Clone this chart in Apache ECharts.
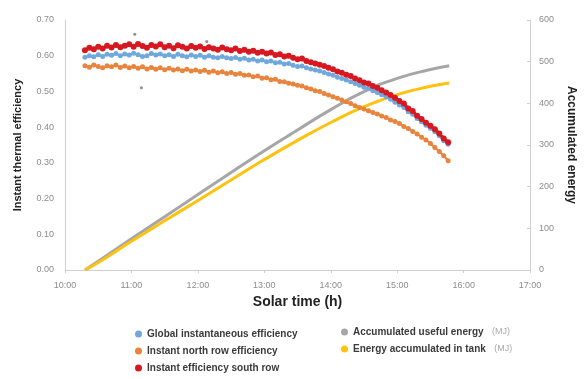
<!DOCTYPE html>
<html><head><meta charset="utf-8">
<script src="https://cdn.jsdelivr.net/npm/echarts@6/dist/echarts.min.js"></script>
<style>html,body{margin:0;padding:0;background:#fff}#c{width:585px;height:379px}</style>
</head><body><div id="c"></div>
<script>
const effTimes = ["10:18","10:22","10:26","10:30","10:34","10:38","10:42","10:46","10:50","10:54","10:58",
"11:02","11:06","11:10","11:14","11:18","11:22","11:26","11:30","11:34","11:38","11:42","11:46","11:50","11:54","11:58",
"12:02","12:06","12:10","12:14","12:18","12:22","12:26","12:30","12:34","12:38","12:42","12:46","12:50","12:54","12:58",
"13:02","13:06","13:10","13:14","13:18","13:22","13:26","13:30","13:34","13:38","13:42","13:46","13:50","13:54","13:58",
"14:02","14:06","14:10","14:14","14:18","14:22","14:26","14:30","14:34","14:38","14:42","14:46","14:50","14:54","14:58",
"15:02","15:06","15:10","15:14","15:18","15:22","15:26","15:30","15:34","15:38","15:42","15:46"];
const globalEff = [.596,.600,.597,.603,.598,.604,.601,.606,.600,.605,.602,
.607,.603,.598,.600,.606,.602,.605,.600,.603,.598,.604,.600,.597,.602,.598,
.601,.596,.600,.596,.594,.598,.594,.592,.595,.590,.593,.588,.590,.585,.588,
.583,.585,.580,.582,.577,.578,.573,.570,.571,.566,.563,.560,.557,.553,.549,
.545,.540,.536,.532,.527,.522,.517,.512,.508,.502,.497,.491,.485,.478,.470,
.462,.455,.443,.436,.424,.415,.405,.397,.387,.376,.362,.352];
const northEff = [.572,.568,.574,.570,.566,.572,.569,.574,.567,.571,.566,
.570,.565,.569,.563,.567,.562,.566,.561,.565,.560,.563,.558,.562,.557,.560,
.556,.559,.554,.557,.552,.555,.550,.553,.548,.550,.545,.546,.541,.543,.537,
.538,.533,.534,.528,.527,.523,.521,.517,.515,.510,.507,.502,.500,.494,.490,
.485,.481,.476,.471,.466,.460,.455,.451,.446,.441,.437,.431,.427,.420,.416,
.410,.402,.396,.388,.381,.372,.364,.354,.343,.332,.320,.306];
const southEff = [.615,.622,.618,.625,.620,.628,.623,.630,.624,.628,.632,
.625,.633,.627,.622,.630,.626,.632,.624,.628,.621,.629,.625,.620,.627,.622,
.626,.619,.624,.620,.617,.623,.618,.615,.620,.613,.617,.611,.614,.608,.611,
.606,.609,.602,.604,.598,.600,.594,.590,.592,.585,.582,.578,.575,.571,.566,
.562,.556,.552,.547,.543,.536,.531,.525,.522,.515,.510,.503,.497,.490,.482,
.473,.466,.452,.445,.432,.423,.412,.404,.394,.382,.368,.358];
const outlierTimes = ["11:03","11:09","12:08"];
const outlierEff = [0.66, 0.51, 0.64];
const energyTimes = ["10:18","10:30","11:00","11:30","12:00","12:30","13:00","13:30","14:00","14:30","15:00","15:30","15:47"];
const usefulEnergy = [0,21,75,128,181,234,286,336,385,428,460,481,490];
const tankEnergy = [0,18,69,118,167,216,265,311,354,392,421,441,449];
const xTicks = ["10:00","11:00","12:00","13:00","14:00","15:00","16:00","17:00"];
const leftTicks = [0,0.1,0.2,0.3,0.4,0.5,0.6,0.7];
const rightTicks = [0,100,200,300,400,500,600];

const toH = s => { const p = s.split(':'); return +p[0] + (+p[1])/60; };
const pair = (ts, vs) => ts.map((t,i)=>[toH(t), vs[i]]);

const C = {blue:'#6fa8dc', orange:'#e8843c', red:'#d81820', gray:'#a6a6a6', yellow:'#ffc20e'};
const lbl = {color:'#8c8c8c', fontSize:9, fontFamily:'Liberation Sans'};
const legText = {color:'#3a3a3a', fontSize:10, fontWeight:'bold', fontFamily:'Liberation Sans'};

const chart = echarts.init(document.getElementById('c'), null, {renderer:'canvas'});
chart.setOption({
  animation:false,
  grid:{left:65, right:50, top:20, bottom:109},
  xAxis:{type:'value', min:toH(xTicks[0]), max:toH(xTicks[xTicks.length-1]), interval:1,
    axisLine:{lineStyle:{color:'#d0d0d0'}}, axisTick:{show:true, length:3, lineStyle:{color:'#d0d0d0'}},
    splitLine:{show:false},
    axisLabel:{...lbl, margin:11, formatter:v=>{const i=Math.round(v-toH(xTicks[0])); return xTicks[i]||'';}},
    name:'Solar time (h)', nameLocation:'middle', nameGap:23,
    nameTextStyle:{color:'#222', fontSize:14, fontWeight:'bold', fontFamily:'Liberation Sans'}},
  yAxis:[
    {type:'value', min:leftTicks[0], max:leftTicks[leftTicks.length-1], interval:0.1,
     axisLine:{show:true, lineStyle:{color:'#d0d0d0'}}, axisTick:{show:false}, splitLine:{show:false},
     axisLabel:{...lbl, margin:11, formatter:v=>v.toFixed(2)},
     name:'Instant thermal efficiency', nameLocation:'middle', nameGap:42,
     nameTextStyle:{color:'#222', fontSize:11, fontWeight:'bold', fontFamily:'Liberation Sans'}},
    {type:'value', position:'right', min:rightTicks[0], max:rightTicks[rightTicks.length-1], interval:100,
     axisLine:{show:true, lineStyle:{color:'#d0d0d0'}}, axisTick:{show:true, inside:true, length:3, lineStyle:{color:'#d0d0d0'}}, splitLine:{show:false},
     axisLabel:{...lbl, margin:9},
     name:'Accumulated energy', nameLocation:'middle', nameGap:34, nameRotate:-90,
     nameTextStyle:{color:'#222', fontSize:12, fontWeight:'bold', fontFamily:'Liberation Sans'}}
  ],
  legend:[
    {orient:'vertical', left:130, top:324, itemGap:7, itemWidth:7, itemHeight:7, icon:'circle',
     textStyle:legText, data:['Global instantaneous efficiency','Instant north row efficiency','Instant efficiency south row']},
    {orient:'vertical', left:336, top:322, itemGap:7, itemWidth:7, itemHeight:7, icon:'circle',
     textStyle:{...legText, rich:{u:{color:'#aaa', fontWeight:'normal', fontSize:9, fontFamily:'Liberation Sans'}}},
     formatter:n=>n+'   {u|(MJ)}',
     data:['Accumulated useful energy','Energy accumulated in tank']}
  ],
  series:[
    {name:'Accumulated useful energy', type:'line', yAxisIndex:1, smooth:true, showSymbol:false, z:1,
     data:pair(energyTimes, usefulEnergy), lineStyle:{color:C.gray, width:3}, itemStyle:{color:C.gray}},
    {name:'Energy accumulated in tank', type:'line', yAxisIndex:1, smooth:true, showSymbol:false, z:1,
     data:pair(energyTimes, tankEnergy), lineStyle:{color:C.yellow, width:3}, itemStyle:{color:C.yellow}},
    {name:'Global instantaneous efficiency', type:'line', z:3, symbol:'circle', symbolSize:5, showAllSymbol:true,
     data:pair(effTimes, globalEff), lineStyle:{color:C.blue, width:2}, itemStyle:{color:C.blue}},
    {name:'Instant north row efficiency', type:'line', z:3, symbol:'circle', symbolSize:5, showAllSymbol:true,
     data:pair(effTimes, northEff), lineStyle:{color:C.orange, width:2}, itemStyle:{color:C.orange}},
    {name:'Instant efficiency south row', type:'line', z:4, symbol:'circle', symbolSize:6, showAllSymbol:true,
     data:pair(effTimes, southEff), lineStyle:{color:C.red, width:3}, itemStyle:{color:C.red}},
    {name:'outliers', type:'scatter', z:4, symbolSize:3, data:pair(outlierTimes, outlierEff), itemStyle:{color:'#7a6a70'}}
  ]
});
</script></body></html>
